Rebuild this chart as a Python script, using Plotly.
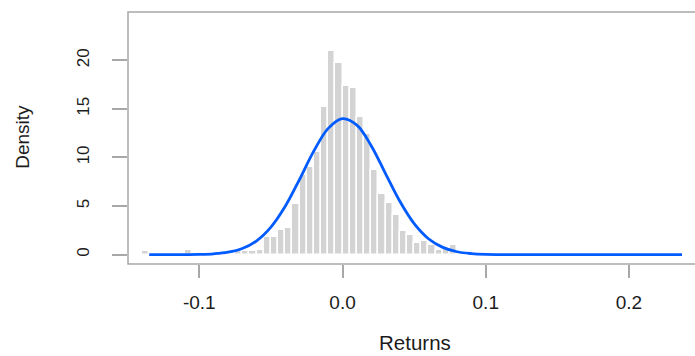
import plotly.graph_objects as go

# Histogram of returns: bins of width 0.005 starting at -0.14
bin_start = -0.14
bin_width = 0.005
density = [
    0.35, 0, 0, 0, 0, 0,            # -0.140 .. -0.110
    0.45, 0, 0, 0, 0, 0, 0,         # -0.110 .. -0.075
    0.45, 0.35, 0.35, 0.5,          # -0.075 .. -0.055
    1.85, 1.85, 2.5, 2.7, 5.2, 8.2, 9.05, 10.6, 15.2, 20.9, 19.7,   # -0.055 .. 0.000
    17.4, 17.1, 14.2, 12.4, 8.7, 6.2, 5.3, 4.1, 2.45, 2.0,          # 0.000 .. 0.050
    1.2, 1.45, 0.95, 0.5, 0.7, 0.95,                               # 0.050 .. 0.080
]

# Fitted normal density curve
curve_x = [-0.135, -0.12, -0.11, -0.10, -0.09, -0.08, -0.07, -0.06, -0.05, -0.04,
           -0.03, -0.02, -0.01, 0.0, 0.01, 0.02, 0.03, 0.04, 0.05, 0.06,
           0.07, 0.08, 0.09, 0.10, 0.11, 0.12, 0.15, 0.20, 0.237]
curve_y = [0.0, 0.0, 0.01, 0.03, 0.09, 0.25, 0.63, 1.42, 2.83, 4.97,
           7.75, 10.67, 12.99, 13.99, 13.32, 11.21, 8.34, 5.49, 3.19, 1.64,
           0.75, 0.30, 0.11, 0.03, 0.01, 0.0, 0.0, 0.0, 0.0]

x_ticks = [-0.1, 0.0, 0.1, 0.2]
x_tick_text = ["-0.1", "0.0", "0.1", "0.2"]
y_ticks = [0, 5, 10, 15, 20]

bin_centers = [bin_start + bin_width * (i + 0.5) for i in range(len(density))]

FONT = "Liberation Sans, Arial, sans-serif"
AXIS_GRAY = "#a8a8a8"
TEXT = "#1c1c1c"

fig = go.Figure()
fig.add_trace(go.Bar(
    x=bin_centers, y=density, width=bin_width,
    marker=dict(color="#d3d3d3", line=dict(color="white", width=1.5)),
    showlegend=False, hoverinfo="skip",
))
fig.add_trace(go.Scatter(
    x=curve_x, y=curve_y, mode="lines",
    line=dict(color="#005bff", width=2.8, shape="spline", smoothing=1.0),
    showlegend=False, hoverinfo="skip",
))

fig.update_layout(
    width=695, height=356,
    margin=dict(l=128, r=0, t=12, b=92),
    paper_bgcolor="white", plot_bgcolor="white",
    bargap=0,
    font=dict(family=FONT, color=TEXT),
    xaxis=dict(
        range=[-0.1498, 0.2461],
        tickvals=x_ticks, ticktext=x_tick_text,
        ticks="outside", ticklen=13, tickwidth=1.5, tickcolor=AXIS_GRAY,
        showgrid=False, zeroline=False, showline=False,
        tickfont=dict(size=19, family=FONT, color=TEXT),
        ticklabelstandoff=8,
    ),
    yaxis=dict(
        range=[-0.96, 24.96],
        tickvals=y_ticks,
        ticks="outside", ticklen=15, tickwidth=1.5, tickcolor=AXIS_GRAY,
        showgrid=False, zeroline=False, showline=False,
        tickangle=-90,
        tickfont=dict(size=17, family=FONT, color=TEXT),
        ticklabelstandoff=16,
    ),
    shapes=[
        dict(type="rect", xref="paper", yref="paper", x0=0, y0=0, x1=1.03, y1=1,
             line=dict(color=AXIS_GRAY, width=1.5), fillcolor="rgba(0,0,0,0)", layer="above"),
    ],
    annotations=[
        dict(text="Density", xref="paper", yref="paper", x=-0.185, y=0.505,
             textangle=-90, showarrow=False, xanchor="center", yanchor="middle",
             font=dict(size=19, family=FONT, color=TEXT)),
        dict(text="Returns", xref="paper", yref="paper", x=0.5053, y=-92 / 252,
             showarrow=False, xanchor="center", yanchor="bottom",
             font=dict(size=20.5, family=FONT, color=TEXT)),
    ],
)

fig.write_html("out.html")
